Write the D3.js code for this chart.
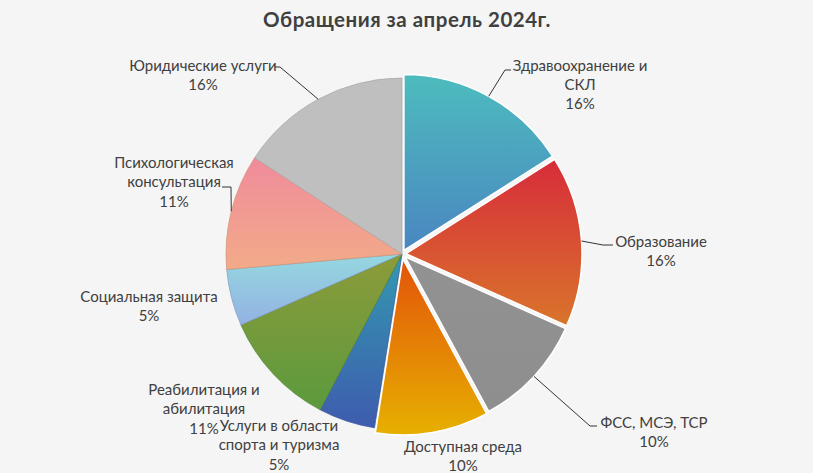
<!DOCTYPE html>
<html>
<head>
<meta charset="utf-8">
<script src="https://cdn.jsdelivr.net/npm/d3@7"></script>
<style>
  body { margin: 0; background: #f5f5f5; }
  svg { display: block; }
  .lbl { font-family: Lato, "Open Sans", sans-serif; font-size: 15px; fill: #404040; }
  .title { font-family: Lato, "Open Sans", sans-serif; font-size: 20.5px; font-weight: bold; fill: #404040; letter-spacing: 0.5px; }
</style>
</head>
<body>
<div class="main"></div>
<script>
const w = 813, h = 473;

// data, clockwise from 12 o'clock
const categories = [
    'Здравоохранение и СКЛ',
    'Образование',
    'ФСС, МСЭ, ТСР',
    'Доступная среда',
    'Услуги в области спорта и туризма',
    'Реабилитация и абилитация',
    'Социальная защита',
    'Психологическая консультация',
    'Юридические услуги'
];
const values = [16.0, 15.7, 10.4, 10.4, 5.2, 10.7, 5.2, 10.6, 15.8];

// styles
const colorTop = ['#4dbcbe', '#d72c3a', '#929292', '#e3530a', '#3399b0', '#8d9b3a', '#95d8e0', '#f08b9c', '#bfbfbf'];
const colorBottom = ['#4a86c0', '#d9742b', '#8e8e8e', '#e6b000', '#3e5cae', '#5b9a3d', '#93b2e2', '#f2ab88', '#bfbfbf'];
const explode = [4, 4, 4, 5, 0, 0, 0, 0, 0];

// label layout: centre x, first baseline, words on first line, leader [elbow, end]
const labelLayout = [
    { x: 580, y: 70.5, split: 2, leader: [[505, 70], [511, 70]] },
    { x: 661, y: 247, split: 0, leader: [[603, 245], [613, 245]] },
    { x: 654, y: 427.5, split: 0, leader: [[590, 426], [597, 426]] },
    { x: 463, y: 452, split: 0, leader: null },
    { x: 279, y: 431, split: 3, leader: null },
    { x: 204, y: 395, split: 2, leader: null },
    { x: 149, y: 302, split: 0, leader: null },
    { x: 174, y: 168, split: 1, leader: [[231, 187], [222, 187]] },
    { x: 203, y: 71, split: 0, leader: [[280, 67], [275, 67]] }
];

const cx = 402, cy = 254, r = 176, lineH = 19.3;
const total = d3.sum(values);

const svg = d3.select('.main')
            .append('svg')
            .attr('width', w)
            .attr('height', h)

svg.append('rect')
    .attr('width', w)
    .attr('height', h)
    .attr('fill', '#f5f5f5')

svg.append('text')
    .attr('class', 'title')
    .attr('x', 407)
    .attr('y', 27)
    .attr('text-anchor', 'middle')
    .text('Обращения за апрель 2024г.')

const defs = svg.append('defs')
defs.selectAll('linearGradient')
    .data(categories)
    .enter()
    .append('linearGradient')
    .attr('id', (d, i) => 'g' + i)
    .attr('x1', 0).attr('y1', 0)
    .attr('x2', 0).attr('y2', 1)
    .each(function(d, i) {
        d3.select(this).append('stop').attr('offset', '0%').attr('stop-color', colorTop[i])
        d3.select(this).append('stop').attr('offset', '100%').attr('stop-color', colorBottom[i])
    })

const pie = d3.pie().sort(null).value(d => d);
const arcs = pie(values);
const arc = d3.arc().innerRadius(0).outerRadius(r);

const mid = d => (d.startAngle + d.endAngle) / 2;
const shift = (d, i) => {
    const a = mid(d);
    return [Math.sin(a) * explode[i], -Math.cos(a) * explode[i]];
}

const pieG = svg.append('g')
            .attr('transform', `translate(${cx}, ${cy})`)

pieG.selectAll('path')
    .data(arcs)
    .enter()
    .append('path')
    .attr('d', arc)
    .attr('transform', (d, i) => `translate(${shift(d, i)})`)
    .attr('fill', (d, i) => `url(#g${i})`)
    .attr('stroke', (d, i) => explode[i] ? '#ffffff' : d3.color(colorBottom[i]).darker(0.4))
    .attr('stroke-width', (d, i) => explode[i] ? 1.5 : 0.7)
    .attr('stroke-linejoin', 'round')

// leader lines
arcs.forEach((d, i) => {
    const lay = labelLayout[i];
    if (!lay.leader) return;
    const a = mid(d), rr = r + explode[i];
    const start = [cx + Math.sin(a) * rr, cy - Math.cos(a) * rr];
    svg.append('path')
        .attr('d', d3.line()([start, ...lay.leader]))
        .attr('fill', 'none')
        .attr('stroke', '#333')
        .attr('stroke-width', 1)
})

// labels
arcs.forEach((d, i) => {
    const lay = labelLayout[i];
    const words = categories[i].split(' ');
    const lines = lay.split ? [words.slice(0, lay.split).join(' '), words.slice(lay.split).join(' ')] : [categories[i]];
    lines.push(Math.round(d.value / total * 100) + '%');
    const t = svg.append('text')
        .attr('class', 'lbl')
        .attr('text-anchor', 'middle')
    lines.forEach((l, k) => {
        t.append('tspan')
            .attr('x', lay.x)
            .attr('y', lay.y + k * lineH)
            .text(l)
    })
})
</script>
</body>
</html>
